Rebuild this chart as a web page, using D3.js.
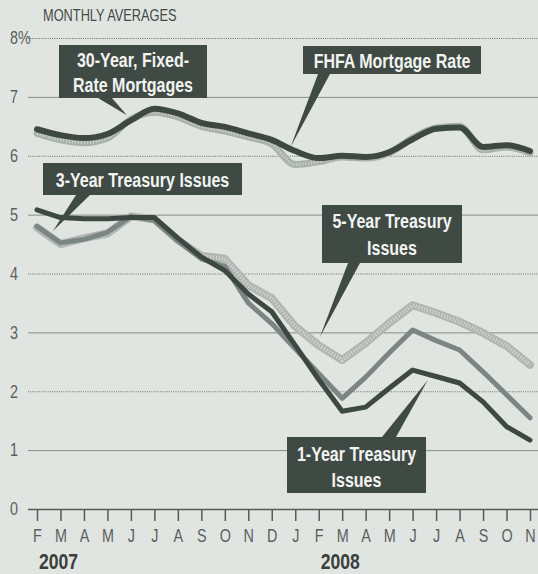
<!DOCTYPE html>
<html>
<head>
<meta charset="utf-8">
<script src="https://cdn.jsdelivr.net/npm/d3@7"></script>
<style>
  body { margin: 0; background: #e1e5e2; }
  svg { display: block; }
</style>
</head>
<body>
<div class="container"></div>
<script>
// chart size and margins
const width = 538;
const height = 574;
const margin = { top: 38, bottom: 65, left: 37, right: 8 };

// data: monthly averages, Feb 2007 .. Nov 2008
const months = ["F", "M", "A", "M", "J", "J", "A", "S", "O", "N", "D",
                "J", "F", "M", "A", "M", "J", "J", "A", "S", "O", "N"];
const yearLabels = [{ i: 0, label: "2007" }, { i: 12, label: "2008" }];
const yTicks = [0, 1, 2, 3, 4, 5, 6, 7, 8];

const fixed30 = [6.45, 6.35, 6.30, 6.37, 6.60, 6.80, 6.72, 6.56, 6.49, 6.38, 6.27,
                 6.08, 5.96, 6.00, 5.98, 6.06, 6.28, 6.46, 6.48, 6.15, 6.18, 6.08];
const fhfa = [6.38, 6.27, 6.22, 6.30, 6.62, 6.74, 6.66, 6.50, 6.42, 6.32, 6.20,
              5.85, 5.90, 5.98, 5.96, 6.05, 6.30, 6.47, 6.50, 6.10, 6.15, 6.05];
const treasury1 = [5.08, 4.95, 4.93, 4.93, 4.95, 4.95, 4.60, 4.28, 4.05, 3.65, 3.35,
                   2.78, 2.20, 1.66, 1.73, 2.05, 2.36, 2.25, 2.14, 1.82, 1.40, 1.17];
const treasury3 = [4.80, 4.52, 4.58, 4.70, 4.97, 4.90, 4.55, 4.25, 4.12, 3.50, 3.15,
                   2.72, 2.30, 1.88, 2.24, 2.65, 3.04, 2.86, 2.70, 2.33, 1.94, 1.55];
const treasury5 = [4.78, 4.50, 4.60, 4.68, 4.97, 4.92, 4.57, 4.30, 4.25, 3.80, 3.58,
                   3.10, 2.78, 2.53, 2.82, 3.16, 3.46, 3.33, 3.18, 2.99, 2.77, 2.45];

const svg = d3.select(".container")
  .append("svg")
  .attr("width", width)
  .attr("height", height);

const xScale = d3.scaleLinear()
  .domain([0, months.length - 1])
  .range([margin.left, width - margin.right]);

const yScale = d3.scaleLinear()
  .domain([0, 8])
  .range([height - margin.bottom, margin.top]);

// no narrow font installed, so squeeze Liberation Sans horizontally
const font = "'Liberation Sans', Arial, sans-serif";
const squeeze = 0.8;

// gridlines + y labels
const yAxis = svg.append("g")
  .attr("transform", "translate(28,0)")
  .call(d3.axisRight(yScale)
    .tickValues(yTicks)
    .tickSize(width - 28)
    .tickFormat(d => d === 8 ? "8%" : d));
yAxis.select(".domain").remove();
yAxis.selectAll(".tick line")
  .attr("stroke", d => d === 0 ? "#555b58" : (d % 2 === 0 ? "#6a706c" : "#858b87"))
  .attr("stroke-width", d => d === 0 ? 1.6 : 1)
  .attr("stroke-dasharray", d => (d !== 0 && d % 2 === 0) ? "1,1.2" : null);
yAxis.selectAll(".tick text")
  .attr("x", 0)
  .attr("transform", `translate(-18,0) scale(${squeeze},1)`)
  .attr("text-anchor", "start")
  .attr("fill", "#5b605d")
  .style("font-family", font)
  .style("font-size", "18px");

// month ticks
const xAxis = svg.append("g")
  .attr("transform", `translate(0,${yScale(0)})`)
  .call(d3.axisBottom(xScale)
    .tickValues(d3.range(months.length))
    .tickSize(12)
    .tickPadding(8)
    .tickFormat(i => months[i]));
xAxis.select(".domain").remove();
xAxis.selectAll(".tick line").attr("stroke", "#555b58").attr("stroke-width", 1.5);
xAxis.selectAll(".tick text")
  .attr("transform", `scale(${squeeze},1)`)
  .attr("fill", "#5b605d")
  .style("font-family", font)
  .style("font-size", "18px");

// narrow text helper
function narrowText(x, y, str, size, weight, color, anchor, sx) {
  return svg.append("text")
    .attr("transform", `translate(${x},${y}) scale(${sx || squeeze},1)`)
    .attr("text-anchor", anchor || "start")
    .attr("fill", color)
    .style("font-family", font)
    .style("font-weight", weight)
    .style("font-size", size + "px")
    .text(str);
}

yearLabels.forEach(d => narrowText(xScale(d.i) + 2, 569, d.label, 22, "bold", "#3a3f3c"));
narrowText(43, 21, "MONTHLY AVERAGES", 16, "normal", "#444a46", "start", 0.8);

// lines
function drawLine(values, color, w, curve, texture) {
  const line = d3.line()
    .x((d, i) => xScale(i))
    .y(d => yScale(d))
    .curve(curve);
  svg.append("path")
    .datum(values)
    .attr("d", line)
    .attr("fill", "none")
    .attr("stroke", color)
    .attr("stroke-width", w)
    .attr("stroke-linecap", "round")
    .attr("stroke-linejoin", "round");
  if (texture) {
    svg.append("path")
      .datum(values)
      .attr("d", line)
      .attr("fill", "none")
      .attr("stroke", texture)
      .attr("stroke-width", w - 4)
      .attr("stroke-dasharray", "1,2")
      .attr("stroke-linejoin", "round");
  }
}

drawLine(treasury5, "#b1b6b3", 8, d3.curveLinear, "#d6dad7");
drawLine(treasury3, "#7b8581", 5, d3.curveLinear);
drawLine(treasury1, "#3d4843", 5, d3.curveLinear);
drawLine(fhfa, "#aab0ac", 7, d3.curveMonotoneX, "#d2d6d3");
drawLine(fixed30, "#3d4843", 6, d3.curveMonotoneX);

// callouts: box, pointer base on box edge, tip at [month index, value]
const callouts = [
  { lines: ["30-Year, Fixed-", "Rate Mortgages"], box: [59, 45, 148, 53], base: [98, 112, 98], tip: [3.83, 6.69], ys: [67, 92] },
  { lines: ["FHFA Mortgage Rate"], box: [303, 46, 178, 28], base: [318, 330, 74], tip: [10.8, 6.15], ys: [68] },
  { lines: ["3-Year Treasury Issues"], box: [43, 163, 199, 32], base: [76, 90, 195], tip: [0.68, 4.72], ys: [187] },
  { lines: ["5-Year Treasury", "Issues"], box: [322, 205, 140, 58], base: [348, 360, 263], tip: [12.05, 2.92], ys: [228, 255] },
  { lines: ["1-Year Treasury", "Issues"], box: [287, 437, 139, 56], base: [382, 396, 437], tip: [16.65, 2.19], ys: [461, 487] }
];

const boxColor = "#404a44";
callouts.forEach(c => {
  const [bx, by, bw, bh] = c.box;
  svg.append("path")
    .attr("d", `M${c.base[0]},${c.base[2]} L${xScale(c.tip[0])},${yScale(c.tip[1])} L${c.base[1]},${c.base[2]} Z`)
    .attr("fill", boxColor);
  svg.append("rect")
    .attr("x", bx).attr("y", by)
    .attr("width", bw).attr("height", bh)
    .attr("fill", boxColor);
  c.lines.forEach((t, k) => {
    narrowText(bx + bw / 2, c.ys[k], t, 20, "bold", "#f2f4f2", "middle");
  });
});
</script>
</body>
</html>
